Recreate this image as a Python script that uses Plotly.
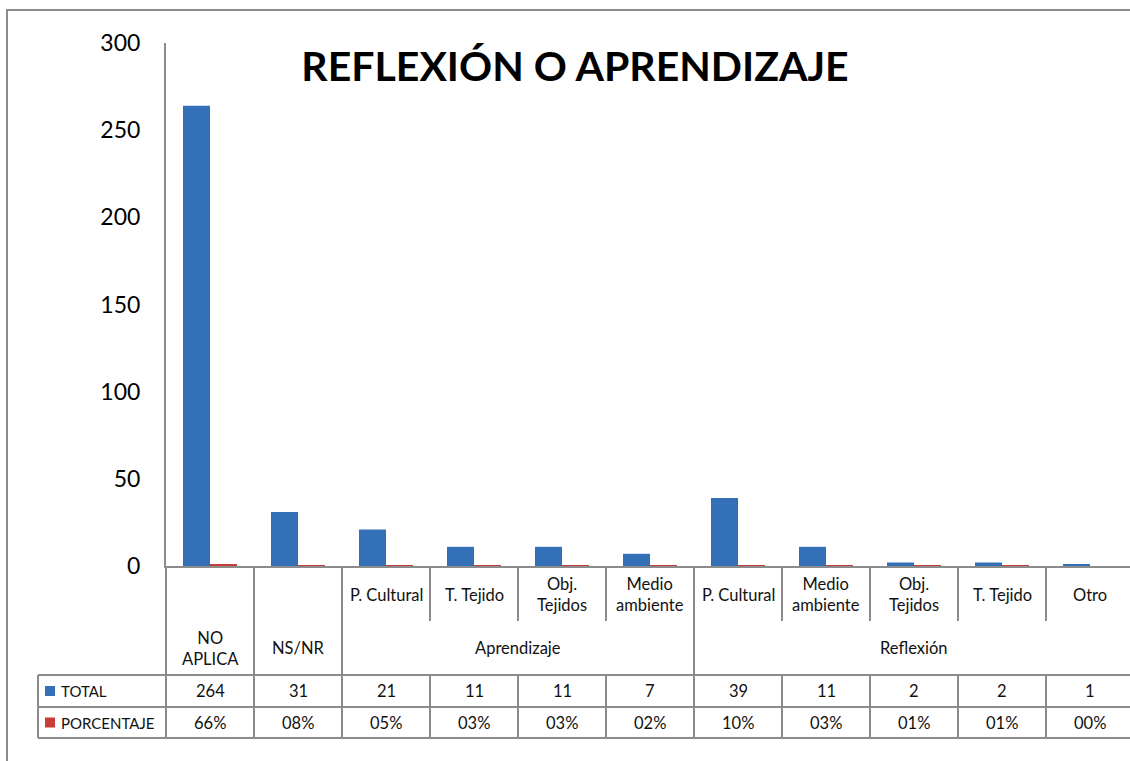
import plotly.graph_objects as go

# ---- data ----
GROUPS = ["NO APLICA", "NS/NR", "Aprendizaje", "Aprendizaje", "Aprendizaje", "Aprendizaje",
          "Reflexión", "Reflexión", "Reflexión", "Reflexión", "Reflexión"]
SUBCATS = ["", "", "P. Cultural", "T. Tejido", "Obj.<br>Tejidos", "Medio<br>ambiente",
           "P. Cultural", "Medio<br>ambiente", "Obj.<br>Tejidos", "T. Tejido", "Otro"]
GROUP_LABELS = {"NO APLICA": "NO<br>APLICA", "NS/NR": "NS/NR",
                "Aprendizaje": "Aprendizaje", "Reflexión": "Reflexión"}
TOTAL = [264, 31, 21, 11, 11, 7, 39, 11, 2, 2, 1]
PORCENTAJE = [66, 8, 5, 3, 3, 2, 10, 3, 1, 1, 0]  # percent
SERIES_NAMES = ["TOTAL", "PORCENTAJE"]
TITLE = "REFLEXIÓN O APRENDIZAJE"
Y_TICKS = [0, 50, 100, 150, 200, 250, 300]

# ---- styling ----
W, H = 1130, 761
PLOT_L, PLOT_T, PLOT_B = 166, 43, 566
PLOT_R = W
CAT_W = 88
FONT = "Lato"
BLUE = "#3470b8"
RED = "#c83c3a"
GRID = "#8c8c8c"

n = len(TOTAL)
x_idx = list(range(n))


def py(p):
    """figure pixel row -> paper y"""
    return (PLOT_B - p) / (PLOT_B - PLOT_T)


def px(p):
    """figure pixel column -> paper x"""
    return (p - PLOT_L) / (PLOT_R - PLOT_L)


fig = go.Figure()
fig.add_trace(go.Bar(x=x_idx, y=TOTAL, name=SERIES_NAMES[0],
                     marker=dict(color=BLUE, line=dict(width=0))))
fig.add_trace(go.Bar(x=x_idx, y=[p / 100 for p in PORCENTAJE], name=SERIES_NAMES[1],
                     marker=dict(color=RED, line=dict(width=0))))

# table rows (pixel rows)
ROW_SUB_BOTTOM = 621
ROW_GROUP_BOTTOM = 675
ROW_TOTAL_BOTTOM = 707
ROW_PCT_BOTTOM = 738
TABLE_LEFT = 38

shapes = []
line = dict(color=GRID, width=2)

# outer chart frame
shapes.append(dict(type="rect", xref="paper", yref="paper",
                   x0=px(7), x1=px(1250), y0=py(900), y1=py(10),
                   line=dict(color=GRID, width=2), fillcolor="rgba(0,0,0,0)"))
# axis continuation through the category rows
shapes.append(dict(type="line", xref="paper", yref="paper", x0=0, x1=0,
                   y0=py(PLOT_B), y1=py(ROW_PCT_BOTTOM), line=line))
# column separators
for i in range(n - 1):
    xb = i + 0.5
    if GROUPS[i] != GROUPS[i + 1]:
        shapes.append(dict(type="line", xref="x", yref="paper", x0=xb, x1=xb,
                           y0=py(PLOT_B), y1=py(ROW_PCT_BOTTOM), line=line))
    else:
        shapes.append(dict(type="line", xref="x", yref="paper", x0=xb, x1=xb,
                           y0=py(PLOT_B), y1=py(ROW_SUB_BOTTOM), line=line))
        shapes.append(dict(type="line", xref="x", yref="paper", x0=xb, x1=xb,
                           y0=py(ROW_GROUP_BOTTOM), y1=py(ROW_PCT_BOTTOM), line=line))
# data-table horizontal rules
for r in (ROW_GROUP_BOTTOM, ROW_TOTAL_BOTTOM, ROW_PCT_BOTTOM):
    shapes.append(dict(type="line", xref="paper", yref="paper",
                       x0=px(TABLE_LEFT), x1=px(1250), y0=py(r), y1=py(r), line=line))
shapes.append(dict(type="line", xref="paper", yref="paper",
                   x0=px(TABLE_LEFT), x1=px(TABLE_LEFT),
                   y0=py(ROW_GROUP_BOTTOM), y1=py(ROW_PCT_BOTTOM), line=line))

annotations = []
txt = dict(family=FONT, size=16.5, color="#111111")
key_txt = dict(family=FONT, size=15, color="#111111")

# legend keys + series names
for k, (name, col) in enumerate(zip(SERIES_NAMES, [BLUE, RED])):
    top = ROW_GROUP_BOTTOM if k == 0 else ROW_TOTAL_BOTTOM
    bot = ROW_TOTAL_BOTTOM if k == 0 else ROW_PCT_BOTTOM
    mid = (top + bot) / 2
    shapes.append(dict(type="rect", xref="paper", yref="paper",
                       x0=px(45), x1=px(55), y0=py(mid + 5), y1=py(mid - 5),
                       line=dict(width=0), fillcolor=col))
    annotations.append(dict(text=name, xref="paper", yref="paper", x=px(59), y=py(mid),
                            xanchor="left", yanchor="middle", showarrow=False, font=key_txt))

# sub-category labels
for i, s in enumerate(SUBCATS):
    if s:
        annotations.append(dict(text=s, xref="x", yref="paper", x=i,
                                y=py((PLOT_B + ROW_SUB_BOTTOM) / 2 + 1),
                                xanchor="center", yanchor="middle", showarrow=False, font=txt))

# group labels (centred on each run of categories)
start = 0
for i in range(1, n + 1):
    if i == n or GROUPS[i] != GROUPS[start]:
        annotations.append(dict(text=GROUP_LABELS[GROUPS[start]], xref="x", yref="paper",
                                x=(start + i - 1) / 2,
                                y=py((ROW_SUB_BOTTOM + ROW_GROUP_BOTTOM) / 2),
                                xanchor="center", yanchor="middle", showarrow=False, font=txt))
        start = i

# data-table values
for i in range(n):
    annotations.append(dict(text=str(TOTAL[i]), xref="x", yref="paper", x=i,
                            y=py((ROW_GROUP_BOTTOM + ROW_TOTAL_BOTTOM) / 2),
                            xanchor="center", yanchor="middle", showarrow=False, font=txt))
    annotations.append(dict(text=f"{PORCENTAJE[i]:02d}%", xref="x", yref="paper", x=i,
                            y=py((ROW_TOTAL_BOTTOM + ROW_PCT_BOTTOM) / 2),
                            xanchor="center", yanchor="middle", showarrow=False, font=txt))

fig.update_layout(
    width=W, height=H,
    margin=dict(l=PLOT_L, r=W - PLOT_R, t=PLOT_T, b=H - PLOT_B, pad=0),
    paper_bgcolor="white", plot_bgcolor="white",
    showlegend=False,
    barmode="group", bargap=0.386, bargroupgap=0,
    title=dict(text=f"<b>{TITLE}</b>", x=575 / W, y=1 - 67 / H, xref="container",
               yref="container", xanchor="center", yanchor="middle",
               font=dict(family=FONT, size=41, color="black")),
    xaxis=dict(range=[-0.5, -0.5 + (PLOT_R - PLOT_L) / CAT_W], showticklabels=False,
               ticks="", showgrid=False, zeroline=False, showline=True,
               linecolor=GRID, linewidth=2, fixedrange=True),
    yaxis=dict(range=[0, 300], tickvals=Y_TICKS, ticks="", showgrid=False,
               zeroline=False, showline=True, linecolor=GRID, linewidth=2,
               ticklabelstandoff=19,
               tickfont=dict(family=FONT, size=23, color="black"), fixedrange=True),
    shapes=shapes,
    annotations=annotations,
)

fig.write_html("out.html")
